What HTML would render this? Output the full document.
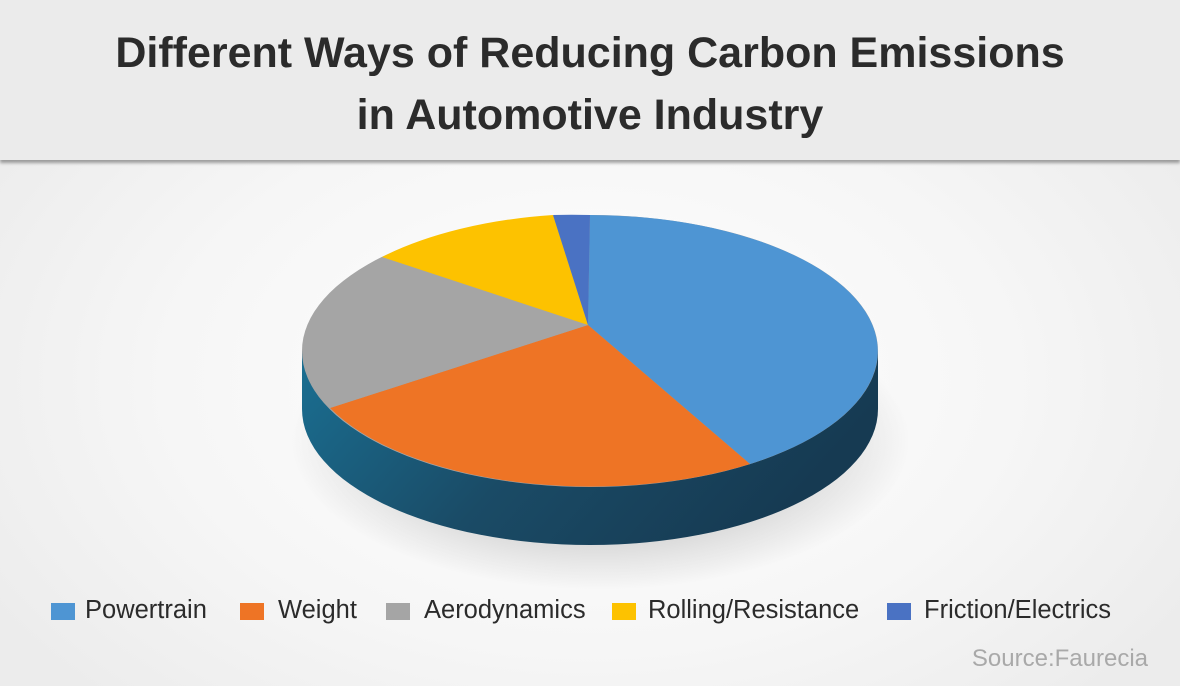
<!DOCTYPE html>
<html><head><style>
html,body{margin:0;padding:0}
body{width:1180px;height:686px;overflow:hidden;position:relative;font-family:"Liberation Sans",sans-serif;background:radial-gradient(ellipse 700px 450px at 590px 380px,#ffffff 0%,#f6f6f6 60%,#ececec 100%)}
.hdr{position:absolute;left:0;top:0;width:1180px;height:160px;background:#ebebeb;box-shadow:0 3px 3px rgba(0,0,0,0.35)}
.hdr div{position:absolute;width:100%;text-align:center;font-size:43px;font-weight:bold;color:#2b2b2b;line-height:62px;top:22px}
.lg{position:absolute;top:596px;font-size:25.5px;color:#2b2b2b;white-space:nowrap}
.sq{position:absolute;top:603px;width:24px;height:17px}
.src{position:absolute;right:32px;top:645px;font-size:24px;color:#a9a9a9}
</style></head><body>
<div class="hdr"><div>Different Ways of Reducing Carbon Emissions<br>in Automotive Industry</div></div>
<svg style="position:absolute;left:0;top:0" width="1180" height="686">
<defs>
<linearGradient id="sd" x1="0" y1="0" x2="1" y2="0.3">
<stop offset="0" stop-color="#1a6f92"/><stop offset="0.5" stop-color="#1a4b66"/><stop offset="1" stop-color="#163a52"/></linearGradient>
<radialGradient id="sh"><stop offset="0" stop-color="rgba(0,0,0,0.4)"/><stop offset="1" stop-color="rgba(0,0,0,0)"/></radialGradient>
</defs>
<ellipse cx="600" cy="440" rx="310" ry="150" fill="url(#sh)"/>
<path d="M302 351 L302 409 A288 136 0 0 0 878 409 L878 351 Z" fill="url(#sd)"/>
<ellipse cx="590" cy="351" rx="288" ry="136" fill="#a5a5a5"/>
<path d="M588 325 L590 215 A288 136 0 0 1 750 464 Z" fill="#4e95d3"/>
<path d="M588 325 L750 464 A288 136 0 0 1 330 408 Z" fill="#ee7425"/>
<path d="M588 325 L330 408 A288 136 0 0 1 382 257 Z" fill="#a5a5a5"/>
<path d="M588 325 L382 257 A288 136 0 0 1 553 215 Z" fill="#fdc200"/>
<path d="M588 325 L553 215 A288 136 0 0 1 590 215 Z" fill="#4a72c3"/>
</svg>
<div class="sq" style="left:51px;background:#4e95d3"></div><div class="lg" style="left:85px">Powertrain</div>
<div class="sq" style="left:240px;background:#ee7425"></div><div class="lg" style="left:278px">Weight</div>
<div class="sq" style="left:386px;background:#a5a5a5"></div><div class="lg" style="left:424px">Aerodynamics</div>
<div class="sq" style="left:612px;background:#fdc200"></div><div class="lg" style="left:648px">Rolling/Resistance</div>
<div class="sq" style="left:887px;background:#4a72c3"></div><div class="lg" style="left:924px">Friction/Electrics</div>
<div class="src">Source:Faurecia</div>
</body></html>
